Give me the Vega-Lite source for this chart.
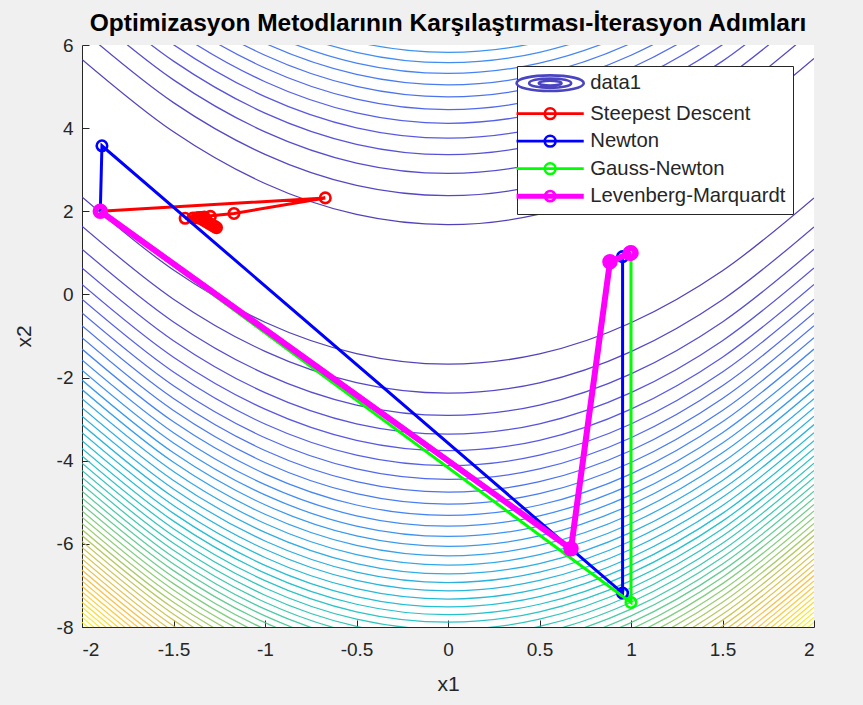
{
  "$schema": "https://vega.github.io/schema/vega-lite/v6.json",
  "width": 732,
  "height": 582,
  "autosize": {"type": "none"},
  "padding": {"left": 82, "top": 45, "right": 49, "bottom": 78},
  "background": "#f0f0f0",
  "title": {
    "text": "Optimizasyon Metodlarının Karşılaştırması-İterasyon Adımları",
    "font": "Liberation Sans",
    "fontSize": 24.5,
    "fontWeight": "bold",
    "color": "#000000",
    "anchor": "middle",
    "frame": "group",
    "offset": 0
  },
  "config": {
    "view": {"fill": "white", "stroke": null},
    "font": "Liberation Sans",
    "locale": {"number": {"decimal": ".", "thousands": ",", "grouping": [3], "currency": ["$", ""], "minus": "-"}},
    "axis": {
      "grid": false,
      "domainColor": "#262626",
      "tickColor": "#262626",
      "labelColor": "#262626",
      "titleColor": "#262626",
      "labelFont": "Liberation Sans",
      "titleFont": "Liberation Sans",
      "labelFontSize": 19,
      "titleFontSize": 21,
      "titleFontWeight": "normal",
      "tickSize": -7,
      "domainWidth": 1,
      "tickWidth": 1
    }
  },
  "datasets": {
    "upper": [
      {"k":1,"x":-2,"y":5.654},{"k":1,"x":-1.5,"y":3.912},{"k":1,"x":-1,"y":2.669},{"k":1,"x":-0.5,"y":1.924},{"k":1,"x":0,"y":1.678},{"k":1,"x":0.5,"y":1.93},{"k":1,"x":1,"y":2.681},{"k":1,"x":1.5,"y":3.93},{"k":1,"x":2,"y":5.678},
      {"k":2,"x":-2,"y":6.358},{"k":2,"x":-1.5,"y":4.614},{"k":2,"x":-1,"y":3.369},{"k":2,"x":-0.5,"y":2.622},{"k":2,"x":0,"y":2.375},{"k":2,"x":0.5,"y":2.627},{"k":2,"x":1,"y":3.377},{"k":2,"x":1.5,"y":4.627},{"k":2,"x":2,"y":6.375},
      {"k":3,"x":-2,"y":6.911},{"k":3,"x":-1.5,"y":5.161},{"k":3,"x":-1,"y":3.911},{"k":3,"x":-0.5,"y":3.161},{"k":3,"x":0,"y":2.911},{"k":3,"x":0.5,"y":3.161},{"k":3,"x":1,"y":3.911},{"k":3,"x":1.5,"y":5.161},{"k":3,"x":2,"y":6.911},
      {"k":4,"x":-2,"y":7.362},{"k":4,"x":-1.5,"y":5.612},{"k":4,"x":-1,"y":4.362},{"k":4,"x":-0.5,"y":3.612},{"k":4,"x":0,"y":3.362},{"k":4,"x":0.5,"y":3.612},{"k":4,"x":1,"y":4.362},{"k":4,"x":1.5,"y":5.612},{"k":4,"x":2,"y":7.362},
      {"k":5,"x":-2,"y":7.759},{"k":5,"x":-1.5,"y":6.009},{"k":5,"x":-1,"y":4.759},{"k":5,"x":-0.5,"y":4.009},{"k":5,"x":0,"y":3.759},{"k":5,"x":0.5,"y":4.009},{"k":5,"x":1,"y":4.759},{"k":5,"x":1.5,"y":6.009},{"k":5,"x":2,"y":7.759},
      {"k":6,"x":-2,"y":8.117},{"k":6,"x":-1.5,"y":6.367},{"k":6,"x":-1,"y":5.117},{"k":6,"x":-0.5,"y":4.367},{"k":6,"x":0,"y":4.117},{"k":6,"x":0.5,"y":4.367},{"k":6,"x":1,"y":5.117},{"k":6,"x":1.5,"y":6.367},{"k":6,"x":2,"y":8.117},
      {"k":7,"x":-2,"y":8.447},{"k":7,"x":-1.5,"y":6.697},{"k":7,"x":-1,"y":5.447},{"k":7,"x":-0.5,"y":4.697},{"k":7,"x":0,"y":4.447},{"k":7,"x":0.5,"y":4.697},{"k":7,"x":1,"y":5.447},{"k":7,"x":1.5,"y":6.697},{"k":7,"x":2,"y":8.447},
      {"k":8,"x":-2,"y":8.754},{"k":8,"x":-1.5,"y":7.004},{"k":8,"x":-1,"y":5.754},{"k":8,"x":-0.5,"y":5.004},{"k":8,"x":0,"y":4.754},{"k":8,"x":0.5,"y":5.004},{"k":8,"x":1,"y":5.754},{"k":8,"x":1.5,"y":7.004},{"k":8,"x":2,"y":8.754},
      {"k":9,"x":-2,"y":9.043},{"k":9,"x":-1.5,"y":7.293},{"k":9,"x":-1,"y":6.043},{"k":9,"x":-0.5,"y":5.293},{"k":9,"x":0,"y":5.043},{"k":9,"x":0.5,"y":5.293},{"k":9,"x":1,"y":6.043},{"k":9,"x":1.5,"y":7.293},{"k":9,"x":2,"y":9.043},
      {"k":10,"x":-2,"y":9.315},{"k":10,"x":-1.5,"y":7.565},{"k":10,"x":-1,"y":6.315},{"k":10,"x":-0.5,"y":5.565},{"k":10,"x":0,"y":5.315},{"k":10,"x":0.5,"y":5.565},{"k":10,"x":1,"y":6.315},{"k":10,"x":1.5,"y":7.565},{"k":10,"x":2,"y":9.315},
      {"k":11,"x":-2,"y":9.575},{"k":11,"x":-1.5,"y":7.825},{"k":11,"x":-1,"y":6.575},{"k":11,"x":-0.5,"y":5.825},{"k":11,"x":0,"y":5.575},{"k":11,"x":0.5,"y":5.825},{"k":11,"x":1,"y":6.575},{"k":11,"x":1.5,"y":7.825},{"k":11,"x":2,"y":9.575},
      {"k":12,"x":-2,"y":9.823},{"k":12,"x":-1.5,"y":8.073},{"k":12,"x":-1,"y":6.823},{"k":12,"x":-0.5,"y":6.073},{"k":12,"x":0,"y":5.823},{"k":12,"x":0.5,"y":6.073},{"k":12,"x":1,"y":6.823},{"k":12,"x":1.5,"y":8.073},{"k":12,"x":2,"y":9.823}
    ],
    "lower": [
      {"k":1,"x":-2,"y":2.346},{"k":1,"x":-1.5,"y":0.588},{"k":1,"x":-1,"y":-0.669},{"k":1,"x":-0.5,"y":-1.424},{"k":1,"x":0,"y":-1.678},{"k":1,"x":0.5,"y":-1.43},{"k":1,"x":1,"y":-0.681},{"k":1,"x":1.5,"y":0.57},{"k":1,"x":2,"y":2.322},
      {"k":2,"x":-2,"y":1.642},{"k":2,"x":-1.5,"y":-0.114},{"k":2,"x":-1,"y":-1.369},{"k":2,"x":-0.5,"y":-2.122},{"k":2,"x":0,"y":-2.375},{"k":2,"x":0.5,"y":-2.127},{"k":2,"x":1,"y":-1.377},{"k":2,"x":1.5,"y":-0.127},{"k":2,"x":2,"y":1.625},
      {"k":3,"x":-2,"y":1.089},{"k":3,"x":-1.5,"y":-0.661},{"k":3,"x":-1,"y":-1.911},{"k":3,"x":-0.5,"y":-2.661},{"k":3,"x":0,"y":-2.911},{"k":3,"x":0.5,"y":-2.661},{"k":3,"x":1,"y":-1.911},{"k":3,"x":1.5,"y":-0.661},{"k":3,"x":2,"y":1.089},
      {"k":4,"x":-2,"y":0.638},{"k":4,"x":-1.5,"y":-1.112},{"k":4,"x":-1,"y":-2.362},{"k":4,"x":-0.5,"y":-3.112},{"k":4,"x":0,"y":-3.362},{"k":4,"x":0.5,"y":-3.112},{"k":4,"x":1,"y":-2.362},{"k":4,"x":1.5,"y":-1.112},{"k":4,"x":2,"y":0.638},
      {"k":5,"x":-2,"y":0.241},{"k":5,"x":-1.5,"y":-1.509},{"k":5,"x":-1,"y":-2.759},{"k":5,"x":-0.5,"y":-3.509},{"k":5,"x":0,"y":-3.759},{"k":5,"x":0.5,"y":-3.509},{"k":5,"x":1,"y":-2.759},{"k":5,"x":1.5,"y":-1.509},{"k":5,"x":2,"y":0.241},
      {"k":6,"x":-2,"y":-0.117},{"k":6,"x":-1.5,"y":-1.867},{"k":6,"x":-1,"y":-3.117},{"k":6,"x":-0.5,"y":-3.867},{"k":6,"x":0,"y":-4.117},{"k":6,"x":0.5,"y":-3.867},{"k":6,"x":1,"y":-3.117},{"k":6,"x":1.5,"y":-1.867},{"k":6,"x":2,"y":-0.117},
      {"k":7,"x":-2,"y":-0.447},{"k":7,"x":-1.5,"y":-2.197},{"k":7,"x":-1,"y":-3.447},{"k":7,"x":-0.5,"y":-4.197},{"k":7,"x":0,"y":-4.447},{"k":7,"x":0.5,"y":-4.197},{"k":7,"x":1,"y":-3.447},{"k":7,"x":1.5,"y":-2.197},{"k":7,"x":2,"y":-0.447},
      {"k":8,"x":-2,"y":-0.754},{"k":8,"x":-1.5,"y":-2.504},{"k":8,"x":-1,"y":-3.754},{"k":8,"x":-0.5,"y":-4.504},{"k":8,"x":0,"y":-4.754},{"k":8,"x":0.5,"y":-4.504},{"k":8,"x":1,"y":-3.754},{"k":8,"x":1.5,"y":-2.504},{"k":8,"x":2,"y":-0.754},
      {"k":9,"x":-2,"y":-1.043},{"k":9,"x":-1.5,"y":-2.793},{"k":9,"x":-1,"y":-4.043},{"k":9,"x":-0.5,"y":-4.793},{"k":9,"x":0,"y":-5.043},{"k":9,"x":0.5,"y":-4.793},{"k":9,"x":1,"y":-4.043},{"k":9,"x":1.5,"y":-2.793},{"k":9,"x":2,"y":-1.043},
      {"k":10,"x":-2,"y":-1.315},{"k":10,"x":-1.5,"y":-3.065},{"k":10,"x":-1,"y":-4.315},{"k":10,"x":-0.5,"y":-5.065},{"k":10,"x":0,"y":-5.315},{"k":10,"x":0.5,"y":-5.065},{"k":10,"x":1,"y":-4.315},{"k":10,"x":1.5,"y":-3.065},{"k":10,"x":2,"y":-1.315},
      {"k":11,"x":-2,"y":-1.575},{"k":11,"x":-1.5,"y":-3.325},{"k":11,"x":-1,"y":-4.575},{"k":11,"x":-0.5,"y":-5.325},{"k":11,"x":0,"y":-5.575},{"k":11,"x":0.5,"y":-5.325},{"k":11,"x":1,"y":-4.575},{"k":11,"x":1.5,"y":-3.325},{"k":11,"x":2,"y":-1.575},
      {"k":12,"x":-2,"y":-1.823},{"k":12,"x":-1.5,"y":-3.573},{"k":12,"x":-1,"y":-4.823},{"k":12,"x":-0.5,"y":-5.573},{"k":12,"x":0,"y":-5.823},{"k":12,"x":0.5,"y":-5.573},{"k":12,"x":1,"y":-4.823},{"k":12,"x":1.5,"y":-3.573},{"k":12,"x":2,"y":-1.823},
      {"k":13,"x":-2,"y":-2.06},{"k":13,"x":-1.5,"y":-3.81},{"k":13,"x":-1,"y":-5.06},{"k":13,"x":-0.5,"y":-5.81},{"k":13,"x":0,"y":-6.06},{"k":13,"x":0.5,"y":-5.81},{"k":13,"x":1,"y":-5.06},{"k":13,"x":1.5,"y":-3.81},{"k":13,"x":2,"y":-2.06},
      {"k":14,"x":-2,"y":-2.289},{"k":14,"x":-1.5,"y":-4.039},{"k":14,"x":-1,"y":-5.289},{"k":14,"x":-0.5,"y":-6.039},{"k":14,"x":0,"y":-6.289},{"k":14,"x":0.5,"y":-6.039},{"k":14,"x":1,"y":-5.289},{"k":14,"x":1.5,"y":-4.039},{"k":14,"x":2,"y":-2.289},
      {"k":15,"x":-2,"y":-2.51},{"k":15,"x":-1.5,"y":-4.26},{"k":15,"x":-1,"y":-5.51},{"k":15,"x":-0.5,"y":-6.26},{"k":15,"x":0,"y":-6.51},{"k":15,"x":0.5,"y":-6.26},{"k":15,"x":1,"y":-5.51},{"k":15,"x":1.5,"y":-4.26},{"k":15,"x":2,"y":-2.51},
      {"k":16,"x":-2,"y":-2.724},{"k":16,"x":-1.5,"y":-4.474},{"k":16,"x":-1,"y":-5.724},{"k":16,"x":-0.5,"y":-6.474},{"k":16,"x":0,"y":-6.724},{"k":16,"x":0.5,"y":-6.474},{"k":16,"x":1,"y":-5.724},{"k":16,"x":1.5,"y":-4.474},{"k":16,"x":2,"y":-2.724},
      {"k":17,"x":-2,"y":-2.93},{"k":17,"x":-1.5,"y":-4.68},{"k":17,"x":-1,"y":-5.93},{"k":17,"x":-0.5,"y":-6.68},{"k":17,"x":0,"y":-6.93},{"k":17,"x":0.5,"y":-6.68},{"k":17,"x":1,"y":-5.93},{"k":17,"x":1.5,"y":-4.68},{"k":17,"x":2,"y":-2.93},
      {"k":18,"x":-2,"y":-3.131},{"k":18,"x":-1.5,"y":-4.881},{"k":18,"x":-1,"y":-6.131},{"k":18,"x":-0.5,"y":-6.881},{"k":18,"x":0,"y":-7.131},{"k":18,"x":0.5,"y":-6.881},{"k":18,"x":1,"y":-6.131},{"k":18,"x":1.5,"y":-4.881},{"k":18,"x":2,"y":-3.131},
      {"k":19,"x":-2,"y":-3.327},{"k":19,"x":-1.5,"y":-5.077},{"k":19,"x":-1,"y":-6.327},{"k":19,"x":-0.5,"y":-7.077},{"k":19,"x":0,"y":-7.327},{"k":19,"x":0.5,"y":-7.077},{"k":19,"x":1,"y":-6.327},{"k":19,"x":1.5,"y":-5.077},{"k":19,"x":2,"y":-3.327},
      {"k":20,"x":-2,"y":-3.517},{"k":20,"x":-1.5,"y":-5.267},{"k":20,"x":-1,"y":-6.517},{"k":20,"x":-0.5,"y":-7.267},{"k":20,"x":0,"y":-7.517},{"k":20,"x":0.5,"y":-7.267},{"k":20,"x":1,"y":-6.517},{"k":20,"x":1.5,"y":-5.267},{"k":20,"x":2,"y":-3.517},
      {"k":21,"x":-2,"y":-3.703},{"k":21,"x":-1.5,"y":-5.453},{"k":21,"x":-1,"y":-6.703},{"k":21,"x":-0.5,"y":-7.453},{"k":21,"x":0,"y":-7.703},{"k":21,"x":0.5,"y":-7.453},{"k":21,"x":1,"y":-6.703},{"k":21,"x":1.5,"y":-5.453},{"k":21,"x":2,"y":-3.703},
      {"k":22,"x":-2,"y":-3.884},{"k":22,"x":-1.5,"y":-5.634},{"k":22,"x":-1,"y":-6.884},{"k":22,"x":-0.5,"y":-7.634},{"k":22,"x":0,"y":-7.884},{"k":22,"x":0.5,"y":-7.634},{"k":22,"x":1,"y":-6.884},{"k":22,"x":1.5,"y":-5.634},{"k":22,"x":2,"y":-3.884},
      {"k":23,"x":-2,"y":-4.061},{"k":23,"x":-1.5,"y":-5.811},{"k":23,"x":-1,"y":-7.061},{"k":23,"x":-0.5,"y":-7.811},{"k":23,"x":0,"y":-8.061},{"k":23,"x":0.5,"y":-7.811},{"k":23,"x":1,"y":-7.061},{"k":23,"x":1.5,"y":-5.811},{"k":23,"x":2,"y":-4.061},
      {"k":24,"x":-2,"y":-4.235},{"k":24,"x":-1.5,"y":-5.985},{"k":24,"x":-1,"y":-7.235},{"k":24,"x":-0.5,"y":-7.985},{"k":24,"x":0,"y":-8.235},{"k":24,"x":0.5,"y":-7.985},{"k":24,"x":1,"y":-7.235},{"k":24,"x":1.5,"y":-5.985},{"k":24,"x":2,"y":-4.235},
      {"k":25,"x":-2,"y":-4.404},{"k":25,"x":-1.5,"y":-6.154},{"k":25,"x":-1,"y":-7.404},{"k":25,"x":-0.5,"y":-8.154},{"k":25,"x":0,"y":-8.404},{"k":25,"x":0.5,"y":-8.154},{"k":25,"x":1,"y":-7.404},{"k":25,"x":1.5,"y":-6.154},{"k":25,"x":2,"y":-4.404},
      {"k":26,"x":-2,"y":-4.571},{"k":26,"x":-1.5,"y":-6.321},{"k":26,"x":-1,"y":-7.571},{"k":26,"x":-0.5,"y":-8.321},{"k":26,"x":0,"y":-8.571},{"k":26,"x":0.5,"y":-8.321},{"k":26,"x":1,"y":-7.571},{"k":26,"x":1.5,"y":-6.321},{"k":26,"x":2,"y":-4.571},
      {"k":27,"x":-2,"y":-4.734},{"k":27,"x":-1.5,"y":-6.484},{"k":27,"x":-1,"y":-7.734},{"k":27,"x":-0.5,"y":-8.484},{"k":27,"x":0,"y":-8.734},{"k":27,"x":0.5,"y":-8.484},{"k":27,"x":1,"y":-7.734},{"k":27,"x":1.5,"y":-6.484},{"k":27,"x":2,"y":-4.734},
      {"k":28,"x":-2,"y":-4.894},{"k":28,"x":-1.5,"y":-6.644},{"k":28,"x":-1,"y":-7.894},{"k":28,"x":-0.5,"y":-8.644},{"k":28,"x":0,"y":-8.894},{"k":28,"x":0.5,"y":-8.644},{"k":28,"x":1,"y":-7.894},{"k":28,"x":1.5,"y":-6.644},{"k":28,"x":2,"y":-4.894},
      {"k":29,"x":-2,"y":-5.052},{"k":29,"x":-1.5,"y":-6.802},{"k":29,"x":-1,"y":-8.052},{"k":29,"x":-0.5,"y":-8.802},{"k":29,"x":0,"y":-9.052},{"k":29,"x":0.5,"y":-8.802},{"k":29,"x":1,"y":-8.052},{"k":29,"x":1.5,"y":-6.802},{"k":29,"x":2,"y":-5.052},
      {"k":30,"x":-2,"y":-5.207},{"k":30,"x":-1.5,"y":-6.957},{"k":30,"x":-1,"y":-8.207},{"k":30,"x":-0.5,"y":-8.957},{"k":30,"x":0,"y":-9.207},{"k":30,"x":0.5,"y":-8.957},{"k":30,"x":1,"y":-8.207},{"k":30,"x":1.5,"y":-6.957},{"k":30,"x":2,"y":-5.207},
      {"k":31,"x":-2,"y":-5.359},{"k":31,"x":-1.5,"y":-7.109},{"k":31,"x":-1,"y":-8.359},{"k":31,"x":-0.5,"y":-9.109},{"k":31,"x":0,"y":-9.359},{"k":31,"x":0.5,"y":-9.109},{"k":31,"x":1,"y":-8.359},{"k":31,"x":1.5,"y":-7.109},{"k":31,"x":2,"y":-5.359},
      {"k":32,"x":-2,"y":-5.508},{"k":32,"x":-1.5,"y":-7.258},{"k":32,"x":-1,"y":-8.508},{"k":32,"x":-0.5,"y":-9.258},{"k":32,"x":0,"y":-9.508},{"k":32,"x":0.5,"y":-9.258},{"k":32,"x":1,"y":-8.508},{"k":32,"x":1.5,"y":-7.258},{"k":32,"x":2,"y":-5.508},
      {"k":33,"x":-2,"y":-5.656},{"k":33,"x":-1.5,"y":-7.406},{"k":33,"x":-1,"y":-8.656},{"k":33,"x":-0.5,"y":-9.406},{"k":33,"x":0,"y":-9.656},{"k":33,"x":0.5,"y":-9.406},{"k":33,"x":1,"y":-8.656},{"k":33,"x":1.5,"y":-7.406},{"k":33,"x":2,"y":-5.656},
      {"k":34,"x":-2,"y":-5.801},{"k":34,"x":-1.5,"y":-7.551},{"k":34,"x":-1,"y":-8.801},{"k":34,"x":-0.5,"y":-9.551},{"k":34,"x":0,"y":-9.801},{"k":34,"x":0.5,"y":-9.551},{"k":34,"x":1,"y":-8.801},{"k":34,"x":1.5,"y":-7.551},{"k":34,"x":2,"y":-5.801},
      {"k":35,"x":-2,"y":-5.944},{"k":35,"x":-1.5,"y":-7.694},{"k":35,"x":-1,"y":-8.944},{"k":35,"x":-0.5,"y":-9.694},{"k":35,"x":0,"y":-9.944},{"k":35,"x":0.5,"y":-9.694},{"k":35,"x":1,"y":-8.944},{"k":35,"x":1.5,"y":-7.694},{"k":35,"x":2,"y":-5.944},
      {"k":36,"x":-2,"y":-6.085},{"k":36,"x":-1.5,"y":-7.835},{"k":36,"x":-1,"y":-9.085},{"k":36,"x":-0.5,"y":-9.835},{"k":36,"x":0,"y":-10.085},{"k":36,"x":0.5,"y":-9.835},{"k":36,"x":1,"y":-9.085},{"k":36,"x":1.5,"y":-7.835},{"k":36,"x":2,"y":-6.085},
      {"k":37,"x":-2,"y":-6.224},{"k":37,"x":-1.5,"y":-7.974},{"k":37,"x":-1,"y":-9.224},{"k":37,"x":-0.5,"y":-9.974},{"k":37,"x":0,"y":-10.224},{"k":37,"x":0.5,"y":-9.974},{"k":37,"x":1,"y":-9.224},{"k":37,"x":1.5,"y":-7.974},{"k":37,"x":2,"y":-6.224},
      {"k":38,"x":-2,"y":-6.362},{"k":38,"x":-1.5,"y":-8.112},{"k":38,"x":-1,"y":-9.362},{"k":38,"x":-0.5,"y":-10.112},{"k":38,"x":0,"y":-10.362},{"k":38,"x":0.5,"y":-10.112},{"k":38,"x":1,"y":-9.362},{"k":38,"x":1.5,"y":-8.112},{"k":38,"x":2,"y":-6.362},
      {"k":39,"x":-2,"y":-6.497},{"k":39,"x":-1.5,"y":-8.247},{"k":39,"x":-1,"y":-9.497},{"k":39,"x":-0.5,"y":-10.247},{"k":39,"x":0,"y":-10.497},{"k":39,"x":0.5,"y":-10.247},{"k":39,"x":1,"y":-9.497},{"k":39,"x":1.5,"y":-8.247},{"k":39,"x":2,"y":-6.497},
      {"k":40,"x":-2,"y":-6.631},{"k":40,"x":-1.5,"y":-8.381},{"k":40,"x":-1,"y":-9.631},{"k":40,"x":-0.5,"y":-10.381},{"k":40,"x":0,"y":-10.631},{"k":40,"x":0.5,"y":-10.381},{"k":40,"x":1,"y":-9.631},{"k":40,"x":1.5,"y":-8.381},{"k":40,"x":2,"y":-6.631},
      {"k":41,"x":-2,"y":-6.763},{"k":41,"x":-1.5,"y":-8.513},{"k":41,"x":-1,"y":-9.763},{"k":41,"x":-0.5,"y":-10.513},{"k":41,"x":0,"y":-10.763},{"k":41,"x":0.5,"y":-10.513},{"k":41,"x":1,"y":-9.763},{"k":41,"x":1.5,"y":-8.513},{"k":41,"x":2,"y":-6.763},
      {"k":42,"x":-2,"y":-6.893},{"k":42,"x":-1.5,"y":-8.643},{"k":42,"x":-1,"y":-9.893},{"k":42,"x":-0.5,"y":-10.643},{"k":42,"x":0,"y":-10.893},{"k":42,"x":0.5,"y":-10.643},{"k":42,"x":1,"y":-9.893},{"k":42,"x":1.5,"y":-8.643},{"k":42,"x":2,"y":-6.893},
      {"k":43,"x":-2,"y":-7.022},{"k":43,"x":-1.5,"y":-8.772},{"k":43,"x":-1,"y":-10.022},{"k":43,"x":-0.5,"y":-10.772},{"k":43,"x":0,"y":-11.022},{"k":43,"x":0.5,"y":-10.772},{"k":43,"x":1,"y":-10.022},{"k":43,"x":1.5,"y":-8.772},{"k":43,"x":2,"y":-7.022},
      {"k":44,"x":-2,"y":-7.15},{"k":44,"x":-1.5,"y":-8.9},{"k":44,"x":-1,"y":-10.15},{"k":44,"x":-0.5,"y":-10.9},{"k":44,"x":0,"y":-11.15},{"k":44,"x":0.5,"y":-10.9},{"k":44,"x":1,"y":-10.15},{"k":44,"x":1.5,"y":-8.9},{"k":44,"x":2,"y":-7.15},
      {"k":45,"x":-2,"y":-7.276},{"k":45,"x":-1.5,"y":-9.026},{"k":45,"x":-1,"y":-10.276},{"k":45,"x":-0.5,"y":-11.026},{"k":45,"x":0,"y":-11.276},{"k":45,"x":0.5,"y":-11.026},{"k":45,"x":1,"y":-10.276},{"k":45,"x":1.5,"y":-9.026},{"k":45,"x":2,"y":-7.276},
      {"k":46,"x":-2,"y":-7.4},{"k":46,"x":-1.5,"y":-9.15},{"k":46,"x":-1,"y":-10.4},{"k":46,"x":-0.5,"y":-11.15},{"k":46,"x":0,"y":-11.4},{"k":46,"x":0.5,"y":-11.15},{"k":46,"x":1,"y":-10.4},{"k":46,"x":1.5,"y":-9.15},{"k":46,"x":2,"y":-7.4},
      {"k":47,"x":-2,"y":-7.523},{"k":47,"x":-1.5,"y":-9.273},{"k":47,"x":-1,"y":-10.523},{"k":47,"x":-0.5,"y":-11.273},{"k":47,"x":0,"y":-11.523},{"k":47,"x":0.5,"y":-11.273},{"k":47,"x":1,"y":-10.523},{"k":47,"x":1.5,"y":-9.273},{"k":47,"x":2,"y":-7.523},
      {"k":48,"x":-2,"y":-7.645},{"k":48,"x":-1.5,"y":-9.395},{"k":48,"x":-1,"y":-10.645},{"k":48,"x":-0.5,"y":-11.395},{"k":48,"x":0,"y":-11.645},{"k":48,"x":0.5,"y":-11.395},{"k":48,"x":1,"y":-10.645},{"k":48,"x":1.5,"y":-9.395},{"k":48,"x":2,"y":-7.645},
      {"k":49,"x":-2,"y":-7.766},{"k":49,"x":-1.5,"y":-9.516},{"k":49,"x":-1,"y":-10.766},{"k":49,"x":-0.5,"y":-11.516},{"k":49,"x":0,"y":-11.766},{"k":49,"x":0.5,"y":-11.516},{"k":49,"x":1,"y":-10.766},{"k":49,"x":1.5,"y":-9.516},{"k":49,"x":2,"y":-7.766},
      {"k":50,"x":-2,"y":-7.886},{"k":50,"x":-1.5,"y":-9.636},{"k":50,"x":-1,"y":-10.886},{"k":50,"x":-0.5,"y":-11.636},{"k":50,"x":0,"y":-11.886},{"k":50,"x":0.5,"y":-11.636},{"k":50,"x":1,"y":-10.886},{"k":50,"x":1.5,"y":-9.636},{"k":50,"x":2,"y":-7.886}
    ],
    "paths": [
      {"method":"Steepest Descent","i":0,"x":-1.9,"y":2.0},
      {"method":"Steepest Descent","i":1,"x":-0.6706,"y":2.322},
      {"method":"Steepest Descent","i":2,"x":-1.1695,"y":1.9475},
      {"method":"Steepest Descent","i":3,"x":-1.4364,"y":1.8316},
      {"method":"Steepest Descent","i":4,"x":-1.2984,"y":1.8779},
      {"method":"Steepest Descent","i":5,"x":-1.3936,"y":1.8395},
      {"method":"Steepest Descent","i":6,"x":-1.3316,"y":1.86},
      {"method":"Steepest Descent","i":7,"x":-1.3732,"y":1.8427},
      {"method":"Steepest Descent","i":8,"x":-1.3448,"y":1.8512},
      {"method":"Steepest Descent","i":9,"x":-1.3631,"y":1.8427},
      {"method":"Steepest Descent","i":10,"x":-1.35,"y":1.8458},
      {"method":"Steepest Descent","i":11,"x":-1.3579,"y":1.8411},
      {"method":"Steepest Descent","i":12,"x":-1.3517,"y":1.8417},
      {"method":"Steepest Descent","i":13,"x":-1.345,"y":1.817},
      {"method":"Steepest Descent","i":14,"x":-1.335,"y":1.79},
      {"method":"Steepest Descent","i":15,"x":-1.325,"y":1.764},
      {"method":"Steepest Descent","i":16,"x":-1.315,"y":1.737},
      {"method":"Steepest Descent","i":17,"x":-1.305,"y":1.711},
      {"method":"Steepest Descent","i":18,"x":-1.295,"y":1.685},
      {"method":"Steepest Descent","i":19,"x":-1.285,"y":1.659},
      {"method":"Steepest Descent","i":20,"x":-1.275,"y":1.634},
      {"method":"Steepest Descent","i":21,"x":-1.265,"y":1.608},
      {"method":"Newton","i":0,"x":-1.9,"y":2.0},
      {"method":"Newton","i":1,"x":-1.891,"y":3.576},
      {"method":"Newton","i":2,"x":0.954,"y":-7.184},
      {"method":"Newton","i":3,"x":0.954,"y":0.91},
      {"method":"Newton","i":4,"x":1.0,"y":0.998},
      {"method":"Newton","i":5,"x":1.0,"y":1.0},
      {"method":"Gauss-Newton","i":0,"x":-1.9,"y":2.0},
      {"method":"Gauss-Newton","i":1,"x":1.0,"y":-7.41},
      {"method":"Gauss-Newton","i":2,"x":1.0,"y":1.0},
      {"method":"Levenberg-Marquardt","i":0,"x":-1.9,"y":2.0},
      {"method":"Levenberg-Marquardt","i":1,"x":0.672,"y":-6.12},
      {"method":"Levenberg-Marquardt","i":2,"x":0.885,"y":0.785},
      {"method":"Levenberg-Marquardt","i":3,"x":0.995,"y":0.99},
      {"method":"Levenberg-Marquardt","i":4,"x":1.0,"y":1.0}
    ],
    "series": [
      {"method": "data1"},
      {"method": "Steepest Descent"},
      {"method": "Newton"},
      {"method": "Gauss-Newton"},
      {"method": "Levenberg-Marquardt"}
    ]
  },
  "layer": [
    {
      "data": {"name": "series"},
      "mark": {"type": "point", "filled": false, "opacity": 0, "strokeWidth": 2.6},
      "encoding": {
        "color": {"field": "method", "type": "nominal",
                  "scale": {"domain": ["data1", "Steepest Descent", "Newton", "Gauss-Newton", "Levenberg-Marquardt"],
                            "range": ["#4a44c0", "#ff0000", "#0000ff", "#00ff00", "#ff00ff"]},
                  "legend": {
                    "title": null,
                    "orient": "top-right",
                    "offset": 21,
                    "padding": 7,
                    "strokeColor": "#262626",
                    "fillColor": "white",
                    "labelFont": "Liberation Sans",
                    "labelFontSize": 20.3,
                    "labelLimit": 400,
                    "labelColor": "#262626",
                    "rowPadding": 5.5,
                    "symbolSize": 144,
                    "symbolOffset": 16,
                    "labelOffset": 30,
                    "symbolStrokeWidth": 2.6,
                    "symbolOpacity": 1
                  }},
        "shape": {"field": "method", "type": "nominal",
                  "scale": {"domain": ["data1", "Steepest Descent", "Newton", "Gauss-Newton", "Levenberg-Marquardt"],
                            "range": [
                              "M5.6,0A5.6,1.3 0 1,1 -5.6,0A5.6,1.3 0 1,1 5.6,0ZM3.5,0A3.5,0.78 0 1,1 -3.5,0A3.5,0.78 0 1,1 3.5,0ZM1.9,0A1.9,0.4 0 1,1 -1.9,0A1.9,0.4 0 1,1 1.9,0Z",
                              "M-5.6,0H5.6M0.9,0A0.9,0.9 0 1,1 -0.9,0A0.9,0.9 0 1,1 0.9,0Z",
                              "M-5.6,0H5.6M0.9,0A0.9,0.9 0 1,1 -0.9,0A0.9,0.9 0 1,1 0.9,0Z",
                              "M-5.6,0H5.6M0.9,0A0.9,0.9 0 1,1 -0.9,0A0.9,0.9 0 1,1 0.9,0Z",
                              "M-5.6,0H5.6M0.85,0A0.85,0.85 0 1,1 -0.85,0A0.85,0.85 0 1,1 0.85,0ZM-5.6,0.2H5.6M-5.6,-0.2H5.6"
                            ]},
                  "legend": {
                    "title": null,
                    "orient": "top-right",
                    "offset": 21,
                    "padding": 7,
                    "strokeColor": "#262626",
                    "fillColor": "white",
                    "labelFont": "Liberation Sans",
                    "labelFontSize": 20.3,
                    "labelLimit": 400,
                    "labelColor": "#262626",
                    "rowPadding": 5.5,
                    "symbolSize": 144,
                    "symbolOffset": 16,
                    "labelOffset": 30,
                    "symbolStrokeWidth": 2.6,
                    "symbolOpacity": 1
                  }}
      }
    },
    {
      "data": {"name": "upper"},
      "mark": {"type": "line", "clip": true, "strokeWidth": 1.25, "opacity": 0.9, "interpolate": "monotone"},
      "encoding": {
        "x": {"field": "x", "type": "quantitative", "scale": {"domain": [-2, 2], "nice": false, "zero": false},
              "axis": {"title": "x1", "values": [-2, -1.5, -1, -0.5, 0, 0.5, 1, 1.5, 2], "format": "~g", "labelPadding": 20, "titlePadding": 14}},
        "y": {"field": "y", "type": "quantitative", "scale": {"domain": [-8, 6], "nice": false, "zero": false},
              "axis": {"title": "x2", "values": [-8, -6, -4, -2, 0, 2, 4, 6], "format": "~g", "labelPadding": 16, "titlePadding": 22}},
        "detail": {"field": "k", "type": "nominal"},
        "stroke": {"field": "k", "type": "quantitative", "legend": null,
                   "scale": {"domain": [0, 5.1, 10.2, 15.3, 20.4, 25.5, 30.6, 35.7, 40.8, 45.9, 51],
                             "range": ["#3e26a8", "#4746e3", "#3079f5", "#1aa0e3", "#0cb9cb", "#2ec4a2", "#7dca6a", "#c8c044", "#fbbb3e", "#f8d82c", "#f9fb15"],
                             "interpolate": "rgb"}}
      }
    },
    {
      "data": {"name": "lower"},
      "mark": {"type": "line", "clip": true, "strokeWidth": 1.25, "opacity": 0.9, "interpolate": "monotone"},
      "encoding": {
        "x": {"field": "x", "type": "quantitative"},
        "y": {"field": "y", "type": "quantitative"},
        "detail": {"field": "k", "type": "nominal"},
        "stroke": {"field": "k", "type": "quantitative", "legend": null}
      }
    },
    {
      "data": {"name": "paths"},
      "transform": [{"filter": "datum.method === 'Steepest Descent'"}],
      "mark": {"type": "line", "strokeWidth": 3},
      "encoding": {
        "x": {"field": "x", "type": "quantitative"},
        "y": {"field": "y", "type": "quantitative"},
        "order": {"field": "i", "type": "quantitative"},
        "color": {"field": "method", "type": "nominal", "legend": null}
      }
    },
    {
      "data": {"name": "paths"},
      "transform": [{"filter": "datum.method === 'Steepest Descent'"}],
      "mark": {"type": "point", "filled": false, "size": 110, "strokeWidth": 2.6, "opacity": 1},
      "encoding": {
        "x": {"field": "x", "type": "quantitative"},
        "y": {"field": "y", "type": "quantitative"},
        "color": {"field": "method", "type": "nominal", "legend": null}
      }
    },
    {
      "data": {"name": "paths"},
      "transform": [{"filter": "datum.method === 'Newton'"}],
      "mark": {"type": "line", "strokeWidth": 3},
      "encoding": {
        "x": {"field": "x", "type": "quantitative"},
        "y": {"field": "y", "type": "quantitative"},
        "order": {"field": "i", "type": "quantitative"},
        "color": {"field": "method", "type": "nominal", "legend": null}
      }
    },
    {
      "data": {"name": "paths"},
      "transform": [{"filter": "datum.method === 'Newton'"}],
      "mark": {"type": "point", "filled": false, "size": 110, "strokeWidth": 2.6, "opacity": 1},
      "encoding": {
        "x": {"field": "x", "type": "quantitative"},
        "y": {"field": "y", "type": "quantitative"},
        "color": {"field": "method", "type": "nominal", "legend": null}
      }
    },
    {
      "data": {"name": "paths"},
      "transform": [{"filter": "datum.method === 'Gauss-Newton'"}],
      "mark": {"type": "line", "strokeWidth": 3},
      "encoding": {
        "x": {"field": "x", "type": "quantitative"},
        "y": {"field": "y", "type": "quantitative"},
        "order": {"field": "i", "type": "quantitative"},
        "color": {"field": "method", "type": "nominal", "legend": null}
      }
    },
    {
      "data": {"name": "paths"},
      "transform": [{"filter": "datum.method === 'Gauss-Newton'"}],
      "mark": {"type": "point", "filled": false, "size": 110, "strokeWidth": 2.6, "opacity": 1},
      "encoding": {
        "x": {"field": "x", "type": "quantitative"},
        "y": {"field": "y", "type": "quantitative"},
        "color": {"field": "method", "type": "nominal", "legend": null}
      }
    },
    {
      "data": {"name": "paths"},
      "transform": [{"filter": "datum.method === 'Levenberg-Marquardt'"}],
      "mark": {"type": "line", "strokeWidth": 6},
      "encoding": {
        "x": {"field": "x", "type": "quantitative"},
        "y": {"field": "y", "type": "quantitative"},
        "order": {"field": "i", "type": "quantitative"},
        "color": {"field": "method", "type": "nominal", "legend": null}
      }
    },
    {
      "data": {"name": "paths"},
      "transform": [{"filter": "datum.method === 'Levenberg-Marquardt'"}],
      "mark": {"type": "point", "filled": false, "size": 100, "strokeWidth": 5.5, "opacity": 1},
      "encoding": {
        "x": {"field": "x", "type": "quantitative"},
        "y": {"field": "y", "type": "quantitative"},
        "color": {"field": "method", "type": "nominal", "legend": null}
      }
    }
  ]
}
